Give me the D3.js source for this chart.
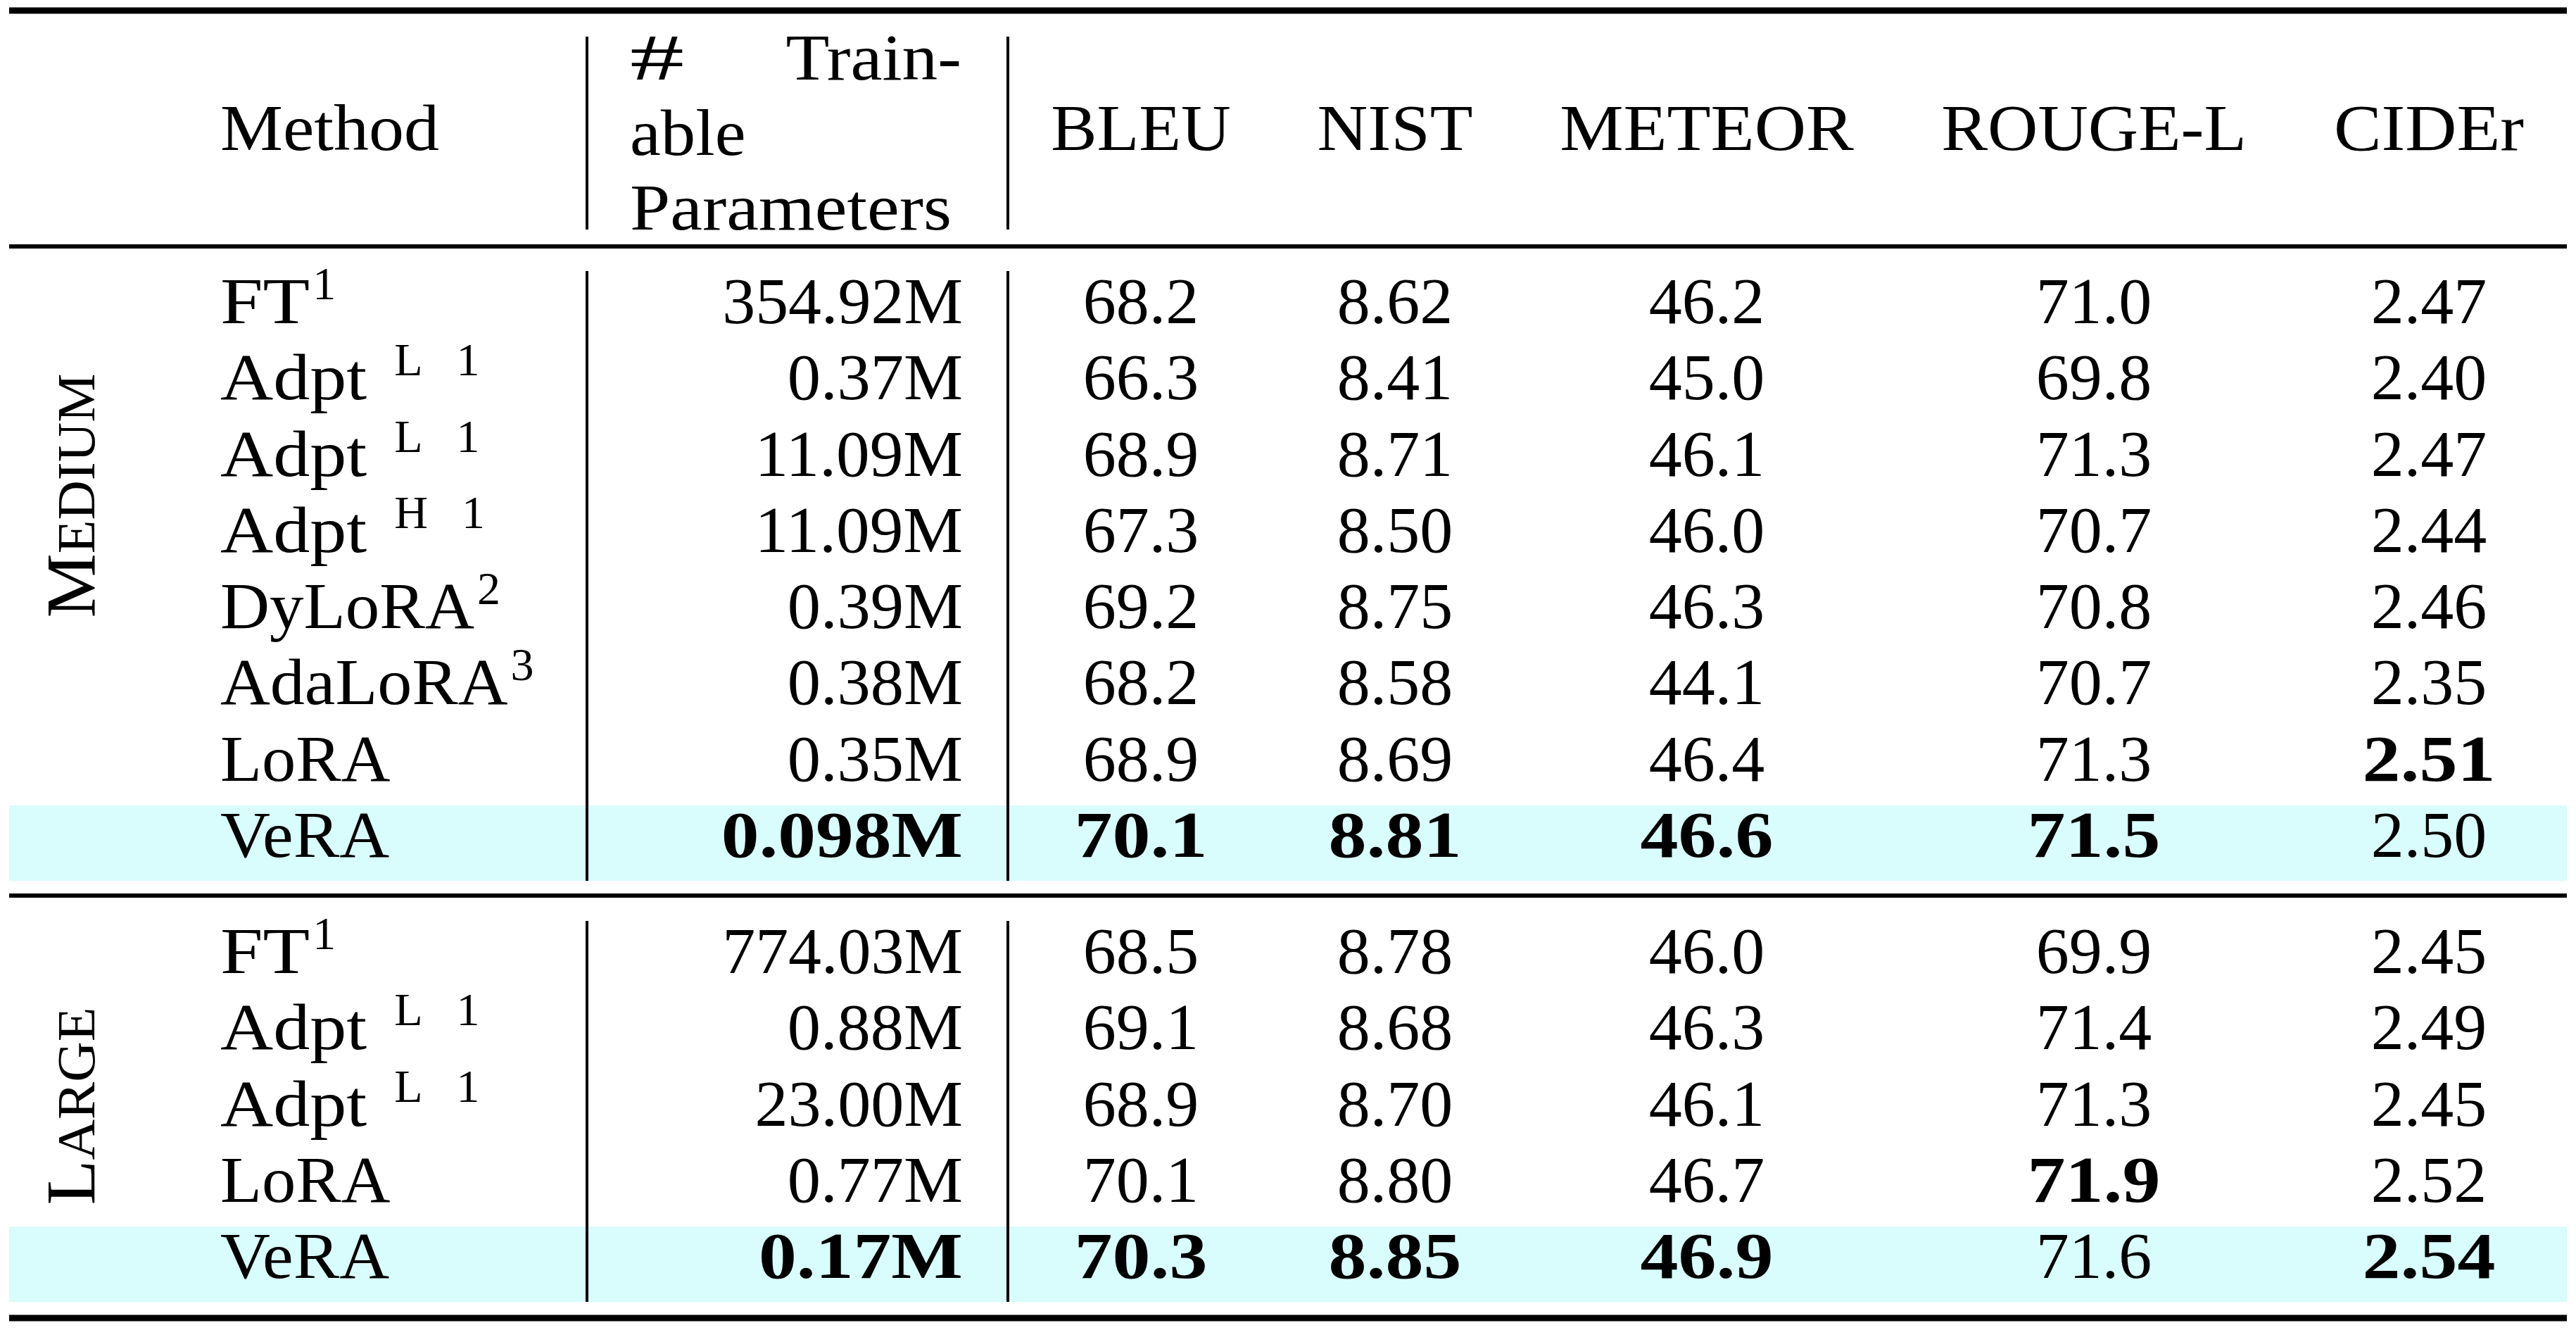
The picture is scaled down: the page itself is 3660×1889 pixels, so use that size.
<!DOCTYPE html>
<html>
<head>
<meta charset="utf-8">
<script src="https://cdn.jsdelivr.net/npm/d3@7"></script>
<style>
html,body{margin:0;padding:0;background:#fff;}
svg{display:block;}
text{font-family:"Liberation Serif","Times New Roman",serif;fill:#000;}
</style>
</head>
<body>
<svg id="chart"></svg>
<script>
// ---------------- data ----------------
const metrics = ["BLEU", "NIST", "METEOR", "ROUGE-L", "CIDEr"];
const metricDigits = [1, 2, 1, 1, 2];
const groupLabels = ["Medium", "Large"];

const methodsMedium = ["FT", "Adpt", "Adpt", "Adpt", "DyLoRA", "AdaLoRA", "LoRA", "VeRA"];
const supMedium = ["1", "L 1", "L 1", "H 1", "2", "3", "", ""];
const paramsMedium = ["354.92M", "0.37M", "11.09M", "11.09M", "0.39M", "0.38M", "0.35M", "0.098M"];
const bleuMedium = [68.2, 66.3, 68.9, 67.3, 69.2, 68.2, 68.9, 70.1];
const nistMedium = [8.62, 8.41, 8.71, 8.50, 8.75, 8.58, 8.69, 8.81];
const meteorMedium = [46.2, 45.0, 46.1, 46.0, 46.3, 44.1, 46.4, 46.6];
const rougeMedium = [71.0, 69.8, 71.3, 70.7, 70.8, 70.7, 71.3, 71.5];
const ciderMedium = [2.47, 2.40, 2.47, 2.44, 2.46, 2.35, 2.51, 2.50];

const methodsLarge = ["FT", "Adpt", "Adpt", "LoRA", "VeRA"];
const supLarge = ["1", "L 1", "L 1", "", ""];
const paramsLarge = ["774.03M", "0.88M", "23.00M", "0.77M", "0.17M"];
const bleuLarge = [68.5, 69.1, 68.9, 70.1, 70.3];
const nistLarge = [8.78, 8.68, 8.70, 8.80, 8.85];
const meteorLarge = [46.0, 46.3, 46.1, 46.7, 46.9];
const rougeLarge = [69.9, 71.4, 71.3, 71.9, 71.6];
const ciderLarge = [2.45, 2.49, 2.45, 2.52, 2.54];

const highlightMethod = "VeRA";

// ---------------- layout ----------------
const W = 3660, H = 1889;
const FS = 92.5, SUPFS = 66;
const ruleX0 = 13, ruleX1 = 3647;
const vLineX = [834, 1432];
const methodX = 313;
const paramsRight = 1368;
const headerBaseline = 213;

const colCenter = d3.scaleOrdinal().domain(metrics).range([1621, 1982, 2425, 2975, 3451]);

const groups = [
  { label: groupLabels[0], methods: methodsMedium, sups: supMedium, params: paramsMedium,
    values: [bleuMedium, nistMedium, meteorMedium, rougeMedium, ciderMedium],
    y: d3.scaleLinear().domain([0, methodsMedium.length - 1]).range([459, 1217]),
    labelCenter: 704, labelLen: 347 },
  { label: groupLabels[1], methods: methodsLarge, sups: supLarge, params: paramsLarge,
    values: [bleuLarge, nistLarge, meteorLarge, rougeLarge, ciderLarge],
    y: d3.scaleLinear().domain([0, methodsLarge.length - 1]).range([1382, 1815]),
    labelCenter: 1571, labelLen: 281 }
];

// Computer Modern advance widths (em) used to size the substitute font
const cmr = {A:.75,B:.708,C:.722,D:.764,E:.681,F:.653,G:.785,H:.75,I:.361,L:.625,M:.917,N:.75,O:.778,
  P:.681,R:.736,S:.556,T:.722,U:.75,V:.75,a:.5,b:.556,d:.556,e:.444,h:.556,i:.278,l:.278,m:.833,n:.556,
  o:.5,p:.556,r:.392,s:.394,t:.389,y:.528,'.':.278,'-':.333,'#':.833,' ':.333};
const cmbx = {M:1.092,'.':.319};
const kerns = {"Ve":-.083, "Tr":-.083, "Pa":-.028};
function cmWidth(s, bold) {
  let w = 0;
  for (const c of s) {
    if (/[0-9]/.test(c)) w += bold ? .575 : .5;
    else w += (bold ? (cmbx[c] ?? (cmr[c] || .5) * 1.1) : (cmr[c] ?? .5));
  }
  if (!bold) for (let i = 0; i < s.length - 1; i++) w += kerns[s.slice(i, i + 2)] || 0;
  return w * FS;
}

const svg = d3.select("#chart").attr("width", W).attr("height", H).attr("viewBox", [0, 0, W, H]);
svg.append("rect").attr("width", W).attr("height", H).attr("fill", "#fff");

function addText(g, str, x, y, anchor, bold) {
  const w = cmWidth(str, bold);
  const x0 = anchor === "middle" ? x - w / 2 : anchor === "end" ? x - w : x;
  return g.append("text")
    .attr("x", x0).attr("y", y)
    .attr("font-size", FS)
    .attr("font-weight", bold ? "bold" : "normal")
    .attr("textLength", w)
    .attr("lengthAdjust", "spacingAndGlyphs")
    .text(str);
}

const gBg = svg.append("g");
const gLines = svg.append("g");
const gText = svg.append("g");

// ---------------- rules ----------------
const rules = [
  { y: 15, t: 9 }, { y: 350, t: 6 }, { y: 1272, t: 6 }, { y: 1872, t: 9 }
];
gLines.selectAll("line.rule").data(rules).join("line")
  .attr("class", "rule")
  .attr("x1", ruleX0).attr("x2", ruleX1)
  .attr("y1", d => d.y).attr("y2", d => d.y)
  .attr("stroke", "#000").attr("stroke-width", d => d.t);

gLines.selectAll("line.hv").data(vLineX).join("line")
  .attr("class", "hv")
  .attr("x1", d => d).attr("x2", d => d)
  .attr("y1", 52).attr("y2", 326)
  .attr("stroke", "#000").attr("stroke-width", 4);

// ---------------- header ----------------
addText(gText, "Method", methodX, headerBaseline, "start", false);
addText(gText, "#", 895, 113, "start", false);
addText(gText, "Train-", 1366, 113, "end", false);
addText(gText, "able", 895, 220, "start", false);
addText(gText, "Parameters", 895, 326, "start", false);
metrics.forEach(m => addText(gText, m, colCenter(m), headerBaseline, "middle", false));

// ---------------- body ----------------
groups.forEach(grp => {
  const n = grp.methods.length;
  const y = grp.y;
  const top = y(0) - 74, bottom = y(n - 1) + 34;

  grp.methods.forEach((m, i) => {
    if (m === highlightMethod) {
      gBg.append("rect")
        .attr("x", ruleX0).attr("width", ruleX1 - ruleX0)
        .attr("y", y(i) - 73).attr("height", 107)
        .attr("fill", "#d9fcfc");
    }
  });

  vLineX.forEach(x => {
    gLines.append("line")
      .attr("x1", x).attr("x2", x).attr("y1", top).attr("y2", bottom)
      .attr("stroke", "#000").attr("stroke-width", 4);
  });

  const lbl = gText.append("text")
    .attr("transform", `translate(134,${grp.labelCenter}) rotate(-90)`)
    .attr("text-anchor", "middle")
    .attr("textLength", grp.labelLen)
    .attr("lengthAdjust", "spacingAndGlyphs");
  lbl.append("tspan").attr("font-size", 100).text(grp.label[0].toUpperCase());
  lbl.append("tspan").attr("font-size", 76).text(grp.label.slice(1).toUpperCase());

  const paramNums = grp.params.map(p => parseFloat(p));
  const minParam = d3.min(paramNums);
  const maxVals = grp.values.map(arr => d3.max(arr));

  grp.methods.forEach((m, i) => {
    const yy = y(i);
    addText(gText, m, methodX, yy, "start", false);
    const sup = grp.sups[i];
    if (sup) {
      const toks = sup.split(" ");
      let x = methodX + cmWidth(m, false) + (/^[0-9]/.test(toks[0]) ? 4 : 39);
      toks.forEach(tk => {
        const t = gText.append("text")
          .attr("x", x).attr("y", yy - 34)
          .attr("font-size", SUPFS).text(tk);
        x += t.node().getComputedTextLength() + 48;
      });
    }
    addText(gText, grp.params[i], paramsRight, yy, "end", paramNums[i] === minParam);
    metrics.forEach((met, k) => {
      const v = grp.values[k][i];
      addText(gText, d3.format("." + metricDigits[k] + "f")(v), colCenter(met), yy, "middle", v === maxVals[k]);
    });
  });
});
</script>
</body>
</html>
